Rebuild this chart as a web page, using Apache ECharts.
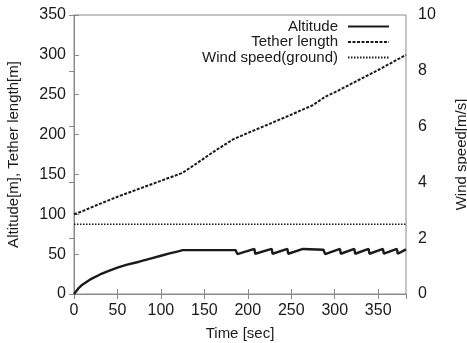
<!DOCTYPE html>
<html>
<head>
<meta charset="utf-8">
<script src="https://cdn.jsdelivr.net/npm/echarts@6/dist/echarts.min.js"></script>
<style>html,body{margin:0;padding:0;background:#fff;}#c{width:467px;height:343px;}</style>
</head>
<body>
<div id="c"></div>
<script>
// ---- data ----
var xTicks = [0, 50, 100, 150, 200, 250, 300, 350];
var leftTicks = [0, 50, 100, 150, 200, 250, 300, 350];
var rightTicks = [0, 2, 4, 6, 8, 10];

var altTime = [0, 5, 10, 20, 30, 40, 50, 60, 75, 90, 100, 110, 120, 125, 186, 188,
  207.5, 208.5, 227.5, 228.5, 245.5, 246.5, 263.5, 265, 287, 289,
  306, 307, 322.5, 323.5, 339, 340, 355.5, 356.5, 371.5, 372.5, 382];
var altitude = [0, 7, 12, 19, 24.5, 29, 33, 36.5, 40.5, 45, 48, 51, 53.5, 55, 55, 50,
  56.5, 50.5, 56.5, 50.5, 56.5, 50.5, 56.5, 55.5, 55.5, 50,
  56.5, 50.5, 56.5, 50.5, 56.5, 50.5, 56.5, 50.5, 56.5, 50.5, 56];

var tetherTime = [0, 10, 25, 50, 75, 100, 125, 140, 160, 183, 200, 225, 250, 275, 289, 300, 325, 350, 382];
var tether = [100, 104, 111, 122, 132, 142, 152, 163, 178, 194, 202, 213.5, 225, 237, 247.5, 253, 267, 281, 300];

var windTime = [0, 382];
var windSpeed = [2.5, 2.5];

var seriesNames = ['Altitude', 'Tether length', 'Wind speed(ground)'];

function zip(a, b) { return a.map(function (v, i) { return [v, b[i]]; }); }

var FONT = 'Liberation Sans';
var axisGray = '#8a8a8a';
var txt = { color: '#1a1a1a', fontFamily: FONT, fontSize: 15 };
var tickTxt = { color: '#1a1a1a', fontFamily: FONT, fontSize: 16 };

var chart = echarts.init(document.getElementById('c'), null, { renderer: 'canvas' });
chart.setOption({
  animation: false,
  backgroundColor: '#fff',
  textStyle: { fontFamily: FONT },
  grid: { left: 74, right: 61, top: 15, bottom: 49, show: true, borderColor: axisGray, borderWidth: 1,
          containLabel: false, outerBoundsMode: 'none' },
  legend: {
    orient: 'vertical', right: 72, top: 14, align: 'right',
    itemWidth: 41, itemHeight: 15, itemGap: 0.5,
    data: seriesNames,
    itemStyle: { opacity: 0 },
    textStyle: { color: '#1a1a1a', fontFamily: FONT, fontSize: 15, lineHeight: 15, padding: [0, 5, 0, 0] }
  },
  xAxis: [{
    type: 'value', min: 0, max: 382, interval: 50,
    name: 'Time [sec]', nameLocation: 'middle', nameGap: 32, nameTextStyle: txt,
    axisLine: { lineStyle: { color: axisGray } },
    axisTick: { inside: true, length: 5, lineStyle: { color: axisGray } },
    axisLabel: Object.assign({ margin: 9, showMaxLabel: false,
      formatter: function (v) { return xTicks.indexOf(v) >= 0 ? String(v) : ''; } }, tickTxt),
    splitLine: { show: false }
  }, {
    type: 'value', position: 'top', min: 0, max: 382, interval: 50,
    axisLine: { lineStyle: { color: axisGray } },
    axisTick: { inside: true, length: 5, lineStyle: { color: axisGray } },
    axisLabel: { show: false }, splitLine: { show: false }
  }],
  yAxis: [{
    type: 'value', min: 0, max: 350, interval: 50,
    name: 'Altitude[m], Tether length[m]', nameLocation: 'middle', nameGap: 53, nameTextStyle: txt,
    axisLine: { show: true, lineStyle: { color: axisGray } },
    axisTick: { inside: true, length: 5, lineStyle: { color: axisGray } },
    axisLabel: Object.assign({ margin: 8,
      formatter: function (v) { return leftTicks.indexOf(v) >= 0 ? String(v) : ''; } }, tickTxt),
    splitLine: { show: false }
  }, {
    type: 'value', position: 'right', min: 0, max: 10, interval: 2,
    name: 'Wind speed[m/s]', nameLocation: 'middle', nameGap: 48, nameTextStyle: txt,
    axisLine: { show: true, lineStyle: { color: axisGray } },
    axisTick: { inside: true, length: 5, lineStyle: { color: axisGray } },
    axisLabel: Object.assign({ margin: 12,
      formatter: function (v) { return rightTicks.indexOf(v) >= 0 ? String(v) : ''; } }, tickTxt),
    splitLine: { show: false }
  }],
  series: [{
    name: seriesNames[0], type: 'line', xAxisIndex: 0, yAxisIndex: 0,
    data: zip(altTime, altitude), symbol: 'none',
    lineStyle: { color: '#1a1a1a', width: 2.4 }, itemStyle: { color: '#1a1a1a' }
  }, {
    name: seriesNames[1], type: 'line', xAxisIndex: 0, yAxisIndex: 0,
    data: zip(tetherTime, tether), symbol: 'none',
    lineStyle: { color: '#1a1a1a', width: 2, type: [3, 1.5] }, itemStyle: { color: '#1a1a1a' }
  }, {
    name: seriesNames[2], type: 'line', xAxisIndex: 0, yAxisIndex: 1,
    data: zip(windTime, windSpeed), symbol: 'none',
    lineStyle: { color: '#1a1a1a', width: 1.6, type: [1.5, 1.5] }, itemStyle: { color: '#1a1a1a' }
  }]
});
</script>
</body>
</html>
